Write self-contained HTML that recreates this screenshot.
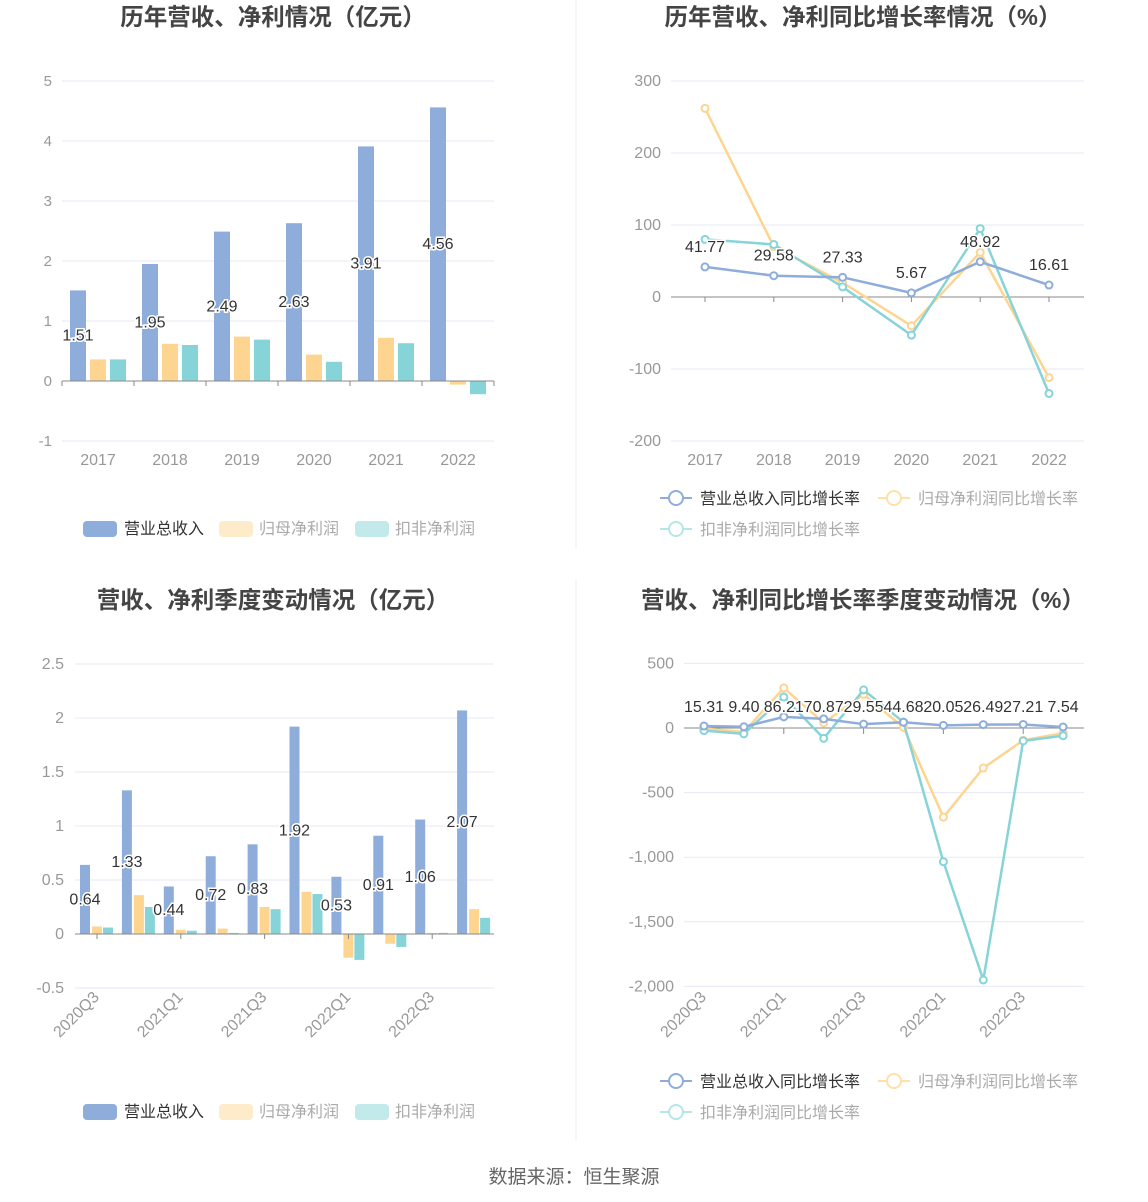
<!DOCTYPE html>
<html><head><meta charset="utf-8"><style>
html,body{margin:0;padding:0;background:#fff}
svg{display:block;font-family:"Liberation Sans","Noto Sans CJK SC",sans-serif}
</style></head><body>
<svg id="s" width="1148" height="1202" xmlns="http://www.w3.org/2000/svg"></svg>
<script>
const S=document.getElementById('s');let h='';
const B='#8eaddb',O='#fdd590',T='#86d4d8';
function t(x,y,s,o){o=o||{};h+=`<text x="${x}" y="${y}" font-size="${o.fs||15}" fill="${o.c||'#999'}" text-anchor="${o.a||'middle'}" ${o.w?'font-weight="bold"':''} ${o.tr?`transform="${o.tr}"`:''} ${o.st?'stroke="#fff" stroke-width="3" paint-order="stroke"':''}>${s}</text>`;}
function l(x1,y1,x2,y2,c,w){h+=`<line x1="${x1}" y1="${y1}" x2="${x2}" y2="${y2}" stroke="${c}" stroke-width="${w||1}"/>`;}
function r(x,y,w,hh,c,rx){if(hh<0){y+=hh;hh=-hh}h+=`<rect x="${x}" y="${y}" width="${w}" height="${hh}" fill="${c}" rx="${rx||0}"/>`;}
l(576,0,576,548,'#eee');l(576,580,576,1140,'#eee');
t(273,25,'历年营收、净利情况（亿元）',{fs:23.5,c:'#444',w:1});
t(863,25,'历年营收、净利同比增长率情况（%）',{fs:23.5,c:'#444',w:1});
t(273,608,'营收、净利季度变动情况（亿元）',{fs:23.5,c:'#444',w:1});
t(863,608,'营收、净利同比增长率季度变动情况（%）',{fs:23.5,c:'#444',w:1});
t(574,1183,'数据来源：恒生聚源',{fs:19,c:'#666'});
{const y0=381,k=60;for(let v=-1;v<=5;v++){const y=y0-v*k;if(v)l(62,y,494,y,'#e6eaf5');t(52,y+5,v,{a:'end'});}
const yrs=['2017','2018','2019','2020','2021','2022'],bl=[1.51,1.95,2.49,2.63,3.91,4.56],or=[.36,.62,.74,.44,.72,-.06],te=[.36,.60,.69,.32,.63,-.22];
yrs.forEach((y,i)=>{const c=98+72*i;r(c-28,y0,16,-bl[i]*k,B);r(c-8,y0,16,-or[i]*k,O);r(c+12,y0,16,-te[i]*k,T);t(c,465,y,{fs:16});});
l(62,y0,494,y0,'#888');for(let i=0;i<=6;i++)l(62+72*i,y0,62+72*i,y0+5,'#888');
yrs.forEach((y,i)=>{const c=98+72*i;t(c-20,y0-bl[i]*k/2+5,bl[i].toFixed(2),{c:'#333',st:1,fs:16});});
r(83,521,34,16,B,4);t(124,534,'营业总收入',{a:'start',c:'#333',fs:16});r(219,521,34,16,'#feebc9',4);t(259,534,'归母净利润',{a:'start',c:'#aaa',fs:16});r(355,521,34,16,'#c3eaeb',4);t(395,534,'扣非净利润',{a:'start',c:'#aaa',fs:16});}
function poly(pts,c){h+=`<polyline points="${pts.map(p=>p.join(',')).join(' ')}" fill="none" stroke="${c}" stroke-width="2.5"/>`;pts.forEach(p=>h+=`<circle cx="${p[0]}" cy="${p[1]}" r="3.5" fill="#fff" stroke="${c}" stroke-width="2"/>`);}
function leg(y,x,c,s,on){l(x-16,y,x+16,y,c,2);h+=`<circle cx="${x}" cy="${y}" r="7" fill="#fff" stroke="${c}" stroke-width="2"/>`;t(x+24,y+6,s,{a:'start',c:on?'#333':'#aaa',fs:16});}
{const y0=297,k=.72;for(let v=-200;v<=300;v+=100){const y=y0-v*k;if(v)l(671,y,1084,y,'#e6eaf5');t(661,y+5,v,{a:'end',fs:16});}
const yrs=['2017','2018','2019','2020','2021','2022'],bl=[41.77,29.58,27.33,5.67,48.92,16.61],or=[262,70,20,-40,62,-112],te=[80,73,14,-53,95,-134];
const X=i=>705+68.8*i;l(671,y0,1084,y0,'#888');yrs.forEach((y,i)=>{l(X(i),y0,X(i),y0+5,'#888');t(X(i),465,y,{fs:16});});
poly(or.map((v,i)=>[X(i),y0-v*k]),O);poly(te.map((v,i)=>[X(i),y0-v*k]),T);poly(bl.map((v,i)=>[X(i),y0-v*k]),B);
bl.forEach((v,i)=>t(X(i),y0-v*k-15,v.toFixed(2),{c:'#333',st:1,fs:16}));
leg(498,676,B,'营业总收入同比增长率',1);leg(498,894,'#fee0a8','归母净利润同比增长率');leg(529,676,'#b5e6e8','扣非净利润同比增长率');}
{const y0=934,k=108;for(let v=-.5;v<=2.5;v+=.5){const y=y0-v*k;if(v)l(75,y,494,y,'#e6eaf5');t(64,y+5,v,{a:'end',fs:16});}
const q=['2020Q3','2020Q4','2021Q1','2021Q2','2021Q3','2021Q4','2022Q1','2022Q2','2022Q3','2022Q4'],bl=[.64,1.33,.44,.72,.83,1.92,.53,.91,1.06,2.07],or=[.07,.36,.04,.05,.25,.39,-.22,-.09,.01,.23],te=[.06,.25,.03,.01,.23,.37,-.24,-.12,.01,.15];
const C=i=>96+41.9*i;q.forEach((s,i)=>{r(C(i)-16,y0,10,-bl[i]*k,B);r(C(i)-4,y0,10,-or[i]*k,O);r(C(i)+7,y0,10,-te[i]*k,T);});
l(75,y0,494,y0,'#888');q.forEach((s,i)=>{if(i%2==0){l(C(i)+1,y0,C(i)+1,y0+5,'#888');t(C(i)+4,998,s,{a:'end',fs:16,tr:`rotate(-45 ${C(i)+4} 998)`});}});
q.forEach((s,i)=>t(C(i)-11,y0-bl[i]*k/2+5,bl[i].toFixed(2),{c:'#333',st:1,fs:16}));
r(83,1104,34,16,B,4);t(124,1117,'营业总收入',{a:'start',c:'#333',fs:16});r(219,1104,34,16,'#feebc9',4);t(259,1117,'归母净利润',{a:'start',c:'#aaa',fs:16});r(355,1104,34,16,'#c3eaeb',4);t(395,1117,'扣非净利润',{a:'start',c:'#aaa',fs:16});}
{const y0=728,k=.1292;for(let v=-2000;v<=500;v+=500){const y=y0-v*k;if(v)l(684,y,1084,y,'#e6eaf5');t(674,y+5,v.toLocaleString('en-US'),{a:'end',fs:16});}
const q=['2020Q3','2020Q4','2021Q1','2021Q2','2021Q3','2021Q4','2022Q1','2022Q2','2022Q3','2022Q4'],bl=[15.31,9.40,86.21,70.87,29.55,44.68,20.05,26.49,27.21,7.54],or=[-5,-30,310,40,260,5,-690,-310,-95,-40],te=[-20,-45,240,-80,295,45,-1035,-1950,-100,-60];
const X=i=>704+39.9*i;l(684,y0,1084,y0,'#888');q.forEach((s,i)=>{if(i%2==0){l(X(i),y0,X(i),y0+6,'#888');t(X(i)+3,998,s,{a:'end',fs:16,tr:`rotate(-45 ${X(i)+3} 998)`});}});
poly(or.map((v,i)=>[X(i),y0-v*k]),O);poly(te.map((v,i)=>[X(i),y0-v*k]),T);poly(bl.map((v,i)=>[X(i),y0-v*k]),B);
bl.forEach((v,i)=>t(X(i),712,v.toFixed(2),{c:'#333',st:1,fs:16}));
leg(1081,676,B,'营业总收入同比增长率',1);leg(1081,894,'#fee0a8','归母净利润同比增长率');leg(1112,676,'#b5e6e8','扣非净利润同比增长率');}
S.innerHTML=h;
</script>
</body></html>
